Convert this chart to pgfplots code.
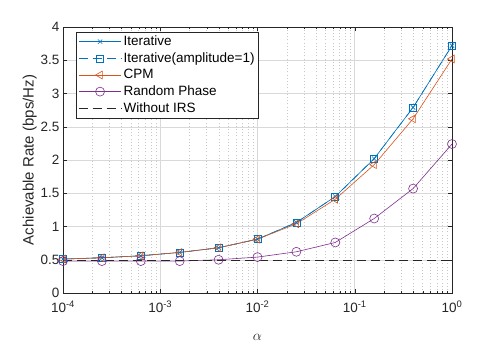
\documentclass[border=0pt]{standalone}
\usepackage{pgfplots}
\pgfplotsset{compat=1.18}
\usepackage{fontspec}
\setmainfont{Liberation Sans}
\definecolor{mblue}{rgb}{0,0.447,0.741}
\definecolor{morange}{rgb}{0.85,0.325,0.098}
\definecolor{mpurple}{rgb}{0.494,0.184,0.556}
\definecolor{maxis}{rgb}{0.15,0.15,0.15}
\begin{document}
\begin{tikzpicture}
\path[use as bounding box] (-63pt,-50pt) rectangle (435pt,293pt);
\begin{semilogxaxis}[
    scale only axis,
    width=389pt, height=266pt,
    xmin=1e-4, xmax=1, ymin=0, ymax=4,
    xtick={1e-4,1e-3,1e-2,1e-1,1},
    xticklabels={10\textsuperscript{-4},10\textsuperscript{-3},10\textsuperscript{-2},10\textsuperscript{-1},10\textsuperscript{0}},
    ytick={0,0.5,...,4},
    yticklabels={0,0.5,1,1.5,2,2.5,3,3.5,4},
    tick align=inside,
    major tick length=4pt, minor tick length=2pt,
    axis line style={maxis},
    tick style={maxis},
    grid=both,
    major grid style={black!15, line width=0.5pt},
    minor grid style={black!22, dash pattern=on 0.8pt off 2.4pt, line width=0.5pt},
    tick label style={font=\fontsize{13.5}{15}\selectfont, text=maxis},
    xticklabel style={yshift=-4pt},
    xlabel={$\alpha$},
    ylabel={Achievable Rate (bps/Hz)},
    label style={font=\fontsize{15}{17}\selectfont, text=maxis},
    xlabel style={yshift=-15pt},
    ylabel style={yshift=-3pt},
    legend style={at={(0.034,0.982)}, anchor=north west, draw=maxis,
        font=\fontsize{13.5}{15}\selectfont, cells={anchor=west},
        row sep=1.5pt, inner sep=2pt},
    legend image code/.code={\draw[mark repeat=2,mark phase=2] plot coordinates {(0cm,0cm) (0.75cm,0cm) (1.5cm,0cm)};},
]
\addplot[mblue, line width=0.6pt, mark=x, mark size=3pt] coordinates {
  (1e-4,0.51) (2.512e-4,0.53) (6.31e-4,0.56) (1.585e-3,0.61) (3.981e-3,0.68)
  (1e-2,0.81) (2.512e-2,1.06) (6.31e-2,1.45) (0.1585,2.02) (0.3981,2.79) (1,3.72)
};
\addlegendentry{Iterative}
\addplot[mblue, line width=0.6pt, dash pattern=on 9pt off 5pt, mark=square, mark size=3.5pt, mark options={solid}] coordinates {
  (1e-4,0.51) (2.512e-4,0.53) (6.31e-4,0.56) (1.585e-3,0.61) (3.981e-3,0.68)
  (1e-2,0.81) (2.512e-2,1.06) (6.31e-2,1.45) (0.1585,2.02) (0.3981,2.79) (1,3.72)
};
\addlegendentry{Iterative(amplitude=1)}
\addplot[morange, line width=0.6pt, mark=triangle, mark size=4.5pt, mark options={solid, rotate=90}] coordinates {
  (1e-4,0.51) (2.512e-4,0.53) (6.31e-4,0.56) (1.585e-3,0.61) (3.981e-3,0.68)
  (1e-2,0.81) (2.512e-2,1.04) (6.31e-2,1.41) (0.1585,1.93) (0.3981,2.62) (1,3.52)
};
\addlegendentry{CPM}
\addplot[mpurple, line width=0.6pt, mark=o, mark size=4.5pt] coordinates {
  (1e-4,0.48) (2.512e-4,0.48) (6.31e-4,0.48) (1.585e-3,0.48) (3.981e-3,0.50)
  (1e-2,0.54) (2.512e-2,0.62) (6.31e-2,0.76) (0.1585,1.12) (0.3981,1.57) (1,2.24)
};
\addlegendentry{Random Phase}
\addplot[maxis, line width=0.6pt, dash pattern=on 9pt off 5pt] coordinates {
  (1e-4,0.49) (1,0.49)
};
\addlegendentry{Without IRS}
\end{semilogxaxis}
\end{tikzpicture}
\end{document}
